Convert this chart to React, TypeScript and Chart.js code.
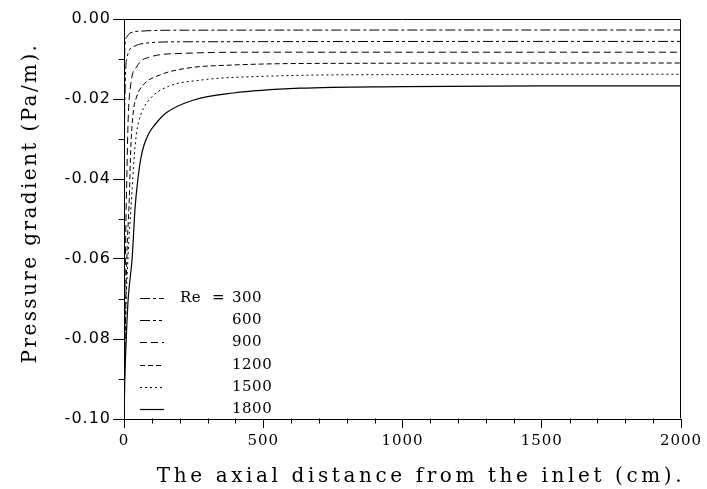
import React, { useEffect, useRef } from 'react';
import { Chart, registerables } from 'chart.js';

Chart.register(...registerables);

// ---- data ----
const reLabels = ['300', '600', '900', '1200', '1500', '1800'];

const re300X = [0, 1, 4, 10, 22, 68, 200, 2000];
const re300Y = [-0.1, -0.025, -0.006, -0.0045, -0.0035, -0.003, -0.0028, -0.00275];

const re600X = [0, 1, 4, 10, 33, 82, 200, 2000];
const re600Y = [-0.1, -0.045, -0.018, -0.01, -0.007, -0.006, -0.0057, -0.0056];

const re900X = [0, 2, 6, 10, 15, 25, 45, 93, 212, 500, 2000];
const re900Y = [-0.1, -0.08, -0.055, -0.04, -0.025, -0.016, -0.012, -0.0095, -0.0086, -0.0083, -0.0083];

const re1200X = [0, 3, 10, 19, 24, 33, 45, 69, 129, 226, 392, 700, 2000];
const re1200Y = [-0.1, -0.085, -0.06, -0.045, -0.033, -0.0235, -0.0195, -0.0165, -0.014, -0.0123, -0.0115, -0.0111, -0.011];

const re1500X = [0, 4, 14, 27, 36, 45, 60, 93, 154, 272, 512, 1000, 2000];
const re1500Y = [-0.1, -0.08, -0.06, -0.045, -0.035, -0.0285, -0.024, -0.02, -0.017, -0.0153, -0.0143, -0.0139, -0.0138];

const re1800X = [0, 3, 8, 15, 29, 40, 50, 60, 72, 90, 110, 153, 248, 392, 632, 1000, 1500, 2000];
const re1800Y = [-0.1, -0.09, -0.08, -0.07, -0.06, -0.047, -0.04, -0.035, -0.0315, -0.0285, -0.0265, -0.0234, -0.0203, -0.0185, -0.0173, -0.0169, -0.0167, -0.0167];

const xTicks = [0, 500, 1000, 1500, 2000];
const xMinorTicks = [100, 200, 300, 400, 600, 700, 800, 900, 1100, 1200, 1300, 1400, 1600, 1700, 1800, 1900];
const yTicks = [0, -0.02, -0.04, -0.06, -0.08, -0.1];
const yMinorTicks = [-0.01, -0.03, -0.05, -0.07, -0.09];

const xTitle = 'The axial distance from the inlet (cm).';
const yTitle = 'Pressure gradient (Pa/m).';

const seriesX = [re300X, re600X, re900X, re1200X, re1500X, re1800X];
const seriesY = [re300Y, re600Y, re900Y, re1200Y, re1500Y, re1800Y];
const dashes = [
  [10, 3, 3, 3],
  [10, 3, 3, 3, 3, 3],
  [7, 4],
  [5, 3],
  [2, 3],
  [],
];

const framePlugin = {
  id: 'frameAndExtras',
  beforeDraw(chart: any) {
    chart.ctx.letterSpacing = '1px';
  },
  afterDraw(chart: any) {
    const ctx = chart.ctx;
    const area = chart.chartArea;
    const xs = chart.scales.x;
    const ys = chart.scales.y;
    ctx.save();
    ctx.letterSpacing = '0px';
    ctx.strokeStyle = '#000';
    ctx.lineWidth = 1;
    ctx.setLineDash([]);
    const L = Math.round(area.left) + 0.5;
    const R = Math.round(area.right) - 0.5;
    const T = Math.round(area.top) + 0.5;
    const B = Math.round(area.bottom) - 0.5;
    ctx.beginPath();
    ctx.moveTo(L, T);
    ctx.lineTo(R, T);
    ctx.lineTo(R, B);
    ctx.stroke();

    // minor ticks
    ctx.beginPath();
    xMinorTicks.forEach((v) => {
      const px = Math.round(xs.getPixelForValue(v)) + 0.5;
      ctx.moveTo(px, B);
      ctx.lineTo(px, B + 5);
    });
    yMinorTicks.forEach((v) => {
      const py = Math.round(ys.getPixelForValue(v)) + 0.5;
      ctx.moveTo(L - 6, py);
      ctx.lineTo(L, py);
    });
    ctx.stroke();

    // legend
    ctx.font = '15px "DejaVu Serif"';
    ctx.fillStyle = '#000';
    ctx.textBaseline = 'middle';
    ctx.textAlign = 'left';
    ctx.letterSpacing = '0.5px';
    chart.data.datasets.forEach((ds: any, i: number) => {
      const y = Math.round(area.bottom - 121 + i * 22.2) + 0.5;
      ctx.save();
      ctx.setLineDash(ds.borderDash || []);
      ctx.lineWidth = ds.borderWidth;
      ctx.beginPath();
      ctx.moveTo(area.left + 16, y);
      ctx.lineTo(area.left + 40, y);
      ctx.stroke();
      ctx.restore();
      if (i === 0) {
        ctx.fillText('Re', area.left + 56, y);
        ctx.fillText('=', area.left + 88, y);
      }
      ctx.fillText(ds.label, area.left + 108, y);
    });

    // axis titles
    ctx.font = '20px "DejaVu Serif"';
    ctx.textAlign = 'center';
    ctx.textBaseline = 'middle';
    ctx.letterSpacing = '3.6px';
    ctx.fillText(xTitle, 421, 477);
    ctx.save();
    ctx.translate(31, 203);
    ctx.rotate(-Math.PI / 2);
    ctx.letterSpacing = '2.4px';
    ctx.fillText(yTitle, 0, 0);
    ctx.restore();
    ctx.restore();
  },
};

export default function App() {
  const ref = useRef<HTMLCanvasElement>(null);
  useEffect(() => {
    document.body.style.margin = '0';
    const canvas = ref.current!;
    const datasets = reLabels.map((label, i) => ({
      label,
      data: seriesX[i].map((x, j) => ({ x, y: seriesY[i][j] })),
      borderColor: '#000',
      borderWidth: i === 5 ? 1.2 : 1,
      borderDash: dashes[i],
      pointRadius: 0,
      fill: false,
      cubicInterpolationMode: 'monotone' as const,
    }));
    const chart = new Chart(canvas, {
      type: 'line',
      data: { datasets },
      plugins: [framePlugin],
      options: {
        animation: false,
        responsive: false,
        devicePixelRatio: 1,
        layout: { padding: { top: 19, right: 26, left: 0, bottom: 0 } },
        plugins: {
          legend: { display: false },
          tooltip: { enabled: false },
        },
        scales: {
          x: {
            type: 'linear',
            min: 0,
            max: 2000,
            afterBuildTicks: (scale: any) => {
              scale.ticks = xTicks.map((v) => ({ value: v }));
            },
            afterFit: (scale: any) => {
              scale.height = 70;
            },
            ticks: {
              color: '#000',
              font: { family: 'DejaVu Serif', size: 15 },
              maxRotation: 0,
              padding: 4,
              callback: (v: any) => String(v),
            },
            grid: {
              drawOnChartArea: false,
              drawTicks: true,
              tickLength: 9,
              tickColor: '#000',
              color: '#000',
            },
            border: { display: true, color: '#000', width: 1 },
          },
          y: {
            type: 'linear',
            min: -0.1,
            max: 0,
            afterBuildTicks: (scale: any) => {
              scale.ticks = yTicks.map((v) => ({ value: v }));
            },
            afterFit: (scale: any) => {
              scale.width = 124;
            },
            ticks: {
              color: '#000',
              font: { family: 'DejaVu Sans', size: 16 },
              padding: 2,
              callback: (v: any) => {
                const n = Number(v);
                return Math.abs(n) < 1e-9 ? '0.00' : n.toFixed(2);
              },
            },
            grid: {
              drawOnChartArea: false,
              drawTicks: true,
              tickLength: 11,
              tickColor: '#000',
              color: '#000',
            },
            border: { display: true, color: '#000', width: 1 },
          },
        },
      },
    });
    return () => chart.destroy();
  }, []);
  return (
    <div style={{ width: 707, height: 489, background: '#fff' }}>
      <canvas ref={ref} width={707} height={489} style={{ display: 'block' }} />
    </div>
  );
}
